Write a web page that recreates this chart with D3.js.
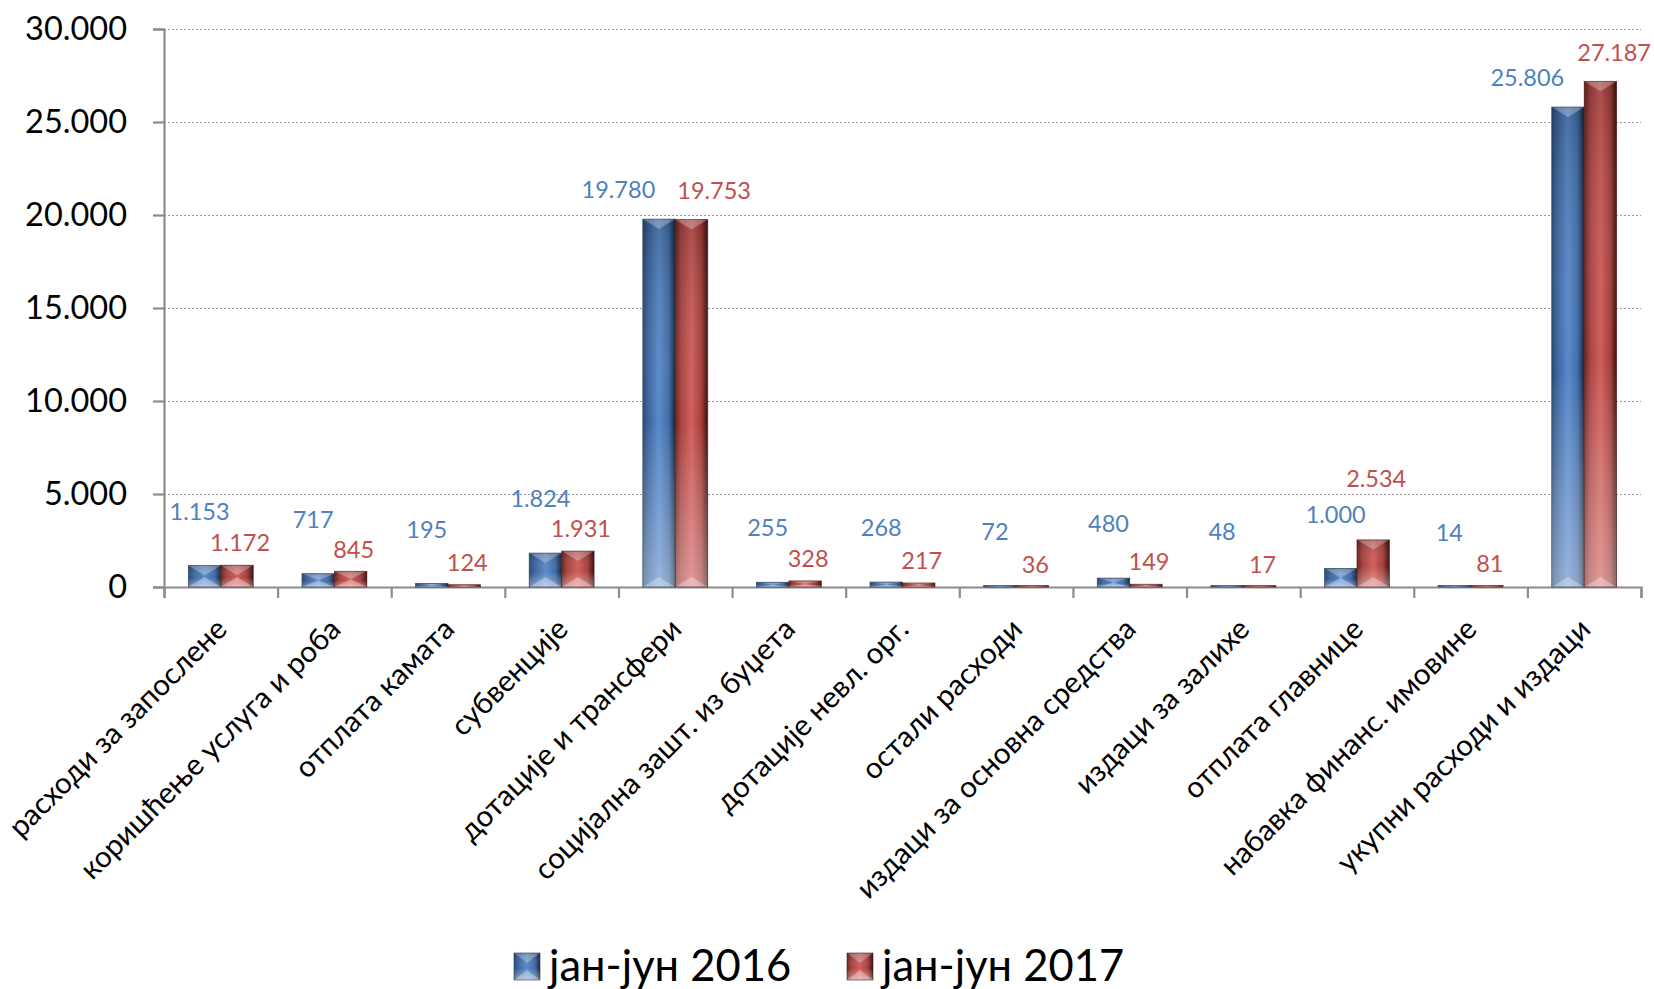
<!DOCTYPE html>
<html>
<head>
<meta charset="utf-8">
<script src="https://cdn.jsdelivr.net/npm/d3@7/dist/d3.min.js"></script>
<style>
  html, body { margin: 0; padding: 0; background: #fff; }
  svg { display: block; font-family: Lato, "Open Sans", sans-serif; }
</style>
</head>
<body>
<svg id="chart" width="1654" height="989"></svg>
<script>
const categories = [
  "расходи за запослене",
  "коришћење услуга и роба",
  "отплата камата",
  "субвенције",
  "дотације и трансфери",
  "социјална зашт. из буџета",
  "дотације невл. орг.",
  "остали расходи",
  "издаци за основна средства",
  "издаци за залихе",
  "отплата главнице",
  "набавка финанс. имовине",
  "укупни расходи и издаци"
];
const seriesNames = ["јан-јун 2016", "јан-јун 2017"];
const values2016 = [1153, 717, 195, 1824, 19780, 255, 268, 72, 480, 48, 1000, 14, 25806];
const values2017 = [1172, 845, 124, 1931, 19753, 328, 217, 36, 149, 17, 2534, 81, 27187];
const yTicks = [0, 5000, 10000, 15000, 20000, 25000, 30000];

const locale = d3.formatLocale({decimal: ",", thousands: ".", grouping: [3], currency: ["", ""]});
const fmt = locale.format(",d");

const W = 1654;
const svg = d3.select("#chart");
const plotLeft = 164, plotRight = 1641, plotTop = 29, plotBottom = 587;

const x = d3.scaleBand().domain(categories).range([plotLeft, plotRight]).paddingInner(0).paddingOuter(0);
const xs = d3.scaleBand().domain(seriesNames).range([0, x.bandwidth()]).paddingInner(0).paddingOuter(0.75);
const y = d3.scaleLinear().domain([0, 30000]).range([plotBottom, plotTop]);

const colors = {
  "јан-јун 2016": {text: "#4F81BD", stops: ["#2b4a73", "#3d66a0", "#5a8acb", "#416ca6", "#16263d"], stroke: "#1c3150"},
  "јан-јун 2017": {text: "#C0504D", stops: ["#6a2221", "#a84441", "#d05e5b", "#a53f3c", "#3a0f0e"], stroke: "#4a1514"}
};

const defs = svg.append("defs");
seriesNames.forEach((s, i) => {
  const g = defs.append("linearGradient").attr("id", "h" + i).attr("x1", 0).attr("x2", 1).attr("y1", 0).attr("y2", 0);
  const offs = [0, 0.18, 0.5, 0.8, 1];
  colors[s].stops.forEach((c, j) => g.append("stop").attr("offset", offs[j]).attr("stop-color", c));
});
const v = defs.append("linearGradient").attr("id", "vshade").attr("x1", 0).attr("x2", 0).attr("y1", 0).attr("y2", 1);
v.append("stop").attr("offset", 0).attr("stop-color", "#000").attr("stop-opacity", 0.18);
v.append("stop").attr("offset", 0.55).attr("stop-color", "#fff").attr("stop-opacity", 0.0);
v.append("stop").attr("offset", 1).attr("stop-color", "#fff").attr("stop-opacity", 0.38);

// gridlines
svg.append("g")
  .attr("transform", `translate(${plotLeft},0)`)
  .call(d3.axisLeft(y).tickValues(yTicks.filter(t => t > 0)).tickSize(-(plotRight - plotLeft)).tickFormat(""))
  .call(g => g.select(".domain").remove())
  .call(g => g.selectAll("line").attr("stroke", "#9a9a9a").attr("stroke-width", 1.2).attr("stroke-dasharray", "2,2"));

// y axis
svg.append("g")
  .attr("transform", `translate(${plotLeft},0)`)
  .call(d3.axisLeft(y).tickValues(yTicks).tickSize(11).tickPadding(26).tickFormat(fmt))
  .call(g => g.select(".domain").attr("stroke", "#8c8c8c").attr("stroke-width", 2.2))
  .call(g => g.selectAll(".tick line").attr("stroke", "#8c8c8c").attr("stroke-width", 2.2))
  .call(g => g.selectAll(".tick text").attr("font-size", 32.5).attr("fill", "#000").attr("font-family", "Lato, 'Open Sans', sans-serif"));

// x axis with boundary ticks
const xb = d3.scaleLinear().domain([0, categories.length]).range([plotLeft, plotRight]);
svg.append("g")
  .attr("transform", `translate(0,${plotBottom})`)
  .call(d3.axisBottom(xb).tickValues(d3.range(categories.length + 1)).tickSize(11).tickFormat(""))
  .call(g => g.select(".domain").attr("stroke", "#8c8c8c").attr("stroke-width", 2.2))
  .call(g => g.selectAll(".tick line").attr("stroke", "#8c8c8c").attr("stroke-width", 2.2));

function drawBar(g, x0, y0, w, h, si) {
  const s = seriesNames[si];
  g.append("rect").attr("x", x0).attr("y", y0).attr("width", w).attr("height", h)
    .attr("fill", `url(#h${si})`);
  g.append("rect").attr("x", x0).attr("y", y0).attr("width", w).attr("height", h)
    .attr("fill", "url(#vshade)");
  const b = Math.min(10, h / 2);
  const cx = x0 + w / 2;
  g.append("path").attr("d", `M${x0},${y0}L${x0 + w},${y0}L${cx},${y0 + b}Z`)
    .attr("fill", "#fff").attr("fill-opacity", 0.28);
  g.append("path").attr("d", `M${x0},${y0 + h}L${x0 + w},${y0 + h}L${cx},${y0 + h - b}Z`)
    .attr("fill", "#fff").attr("fill-opacity", 0.32);
  g.append("rect").attr("x", x0).attr("y", y0).attr("width", w).attr("height", h)
    .attr("fill", "none").attr("stroke", colors[s].stroke).attr("stroke-width", 0.8).attr("stroke-opacity", 0.7);
}

const barsG = svg.append("g");
const labelsG = svg.append("g");
const series = [values2016, values2017];
const labelSize = 23.5;
categories.forEach((c, i) => {
  const gc = x(c) + x.bandwidth() / 2;
  const placed = [];
  series.forEach((vals, si) => {
    const s = seriesNames[si];
    const val = vals[i];
    const bx = x(c) + xs(s);
    const by = y(val);
    const bh = Math.max(y(0) - by, 1.5);
    drawBar(barsG, bx, y(0) - bh, xs.bandwidth(), bh, si);
    const t = labelsG.append("text").attr("dy", "0.35em")
      .attr("font-size", labelSize).attr("fill", colors[s].text)
      .text(fmt(val));
    const tw = t.node().getComputedTextLength();
    const tall = val > 10000;
    let lx, ly;
    if (tall) {
      ly = by - 29;
      if (si === 0) lx = gc - 20 - tw;
      else lx = Math.min(gc + 2, W - 3 - tw);
    } else {
      if (si === 0) { lx = bx + xs.bandwidth() / 2 - 5 - tw / 2; ly = by - 54; }
      else { lx = bx + xs.bandwidth() / 2 + 3 - tw / 2; ly = by - 22; }
    }
    // avoid collision with the other series' label
    placed.forEach(p => {
      const overlapX = lx < p.x + p.w && lx + tw > p.x;
      const overlapY = Math.abs(ly - p.y) < labelSize * 0.9;
      if (overlapX && overlapY) ly = p.y - labelSize * 1.5;
    });
    placed.push({x: lx, y: ly, w: tw});
    t.attr("x", lx).attr("y", ly);
  });
});

// category labels
svg.append("g").selectAll("text").data(categories).join("text")
  .attr("transform", d => `translate(${x(d) + x.bandwidth() / 2 + 8},631) rotate(-45)`)
  .attr("text-anchor", "end").attr("font-size", 29.5).attr("fill", "#000")
  .text(d => d);

// legend
const leg = svg.append("g");
const legX = [514, 847];
seriesNames.forEach((s, si) => {
  const g = leg.append("g");
  drawBar(g, legX[si], 953, 26, 27, si);
  g.append("text").attr("x", legX[si] + 35).attr("y", 981).attr("font-size", 43.5).attr("fill", "#000").text(s);
});
</script>
</body>
</html>
